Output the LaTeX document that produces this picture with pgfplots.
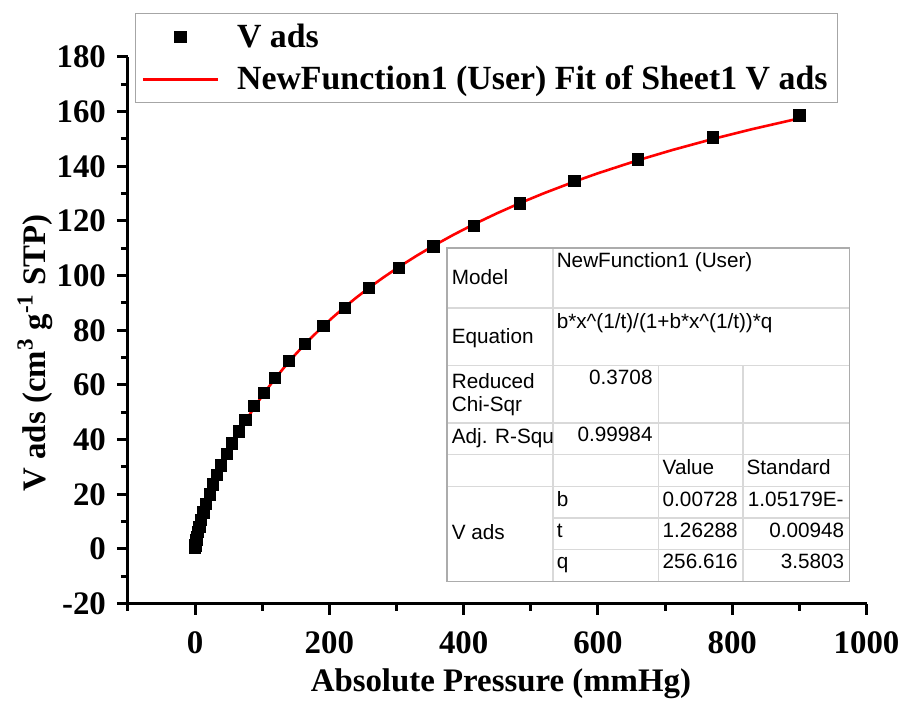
\documentclass[border=0pt]{standalone}
\usepackage{pgfplots}
\pgfplotsset{compat=1.18}
\usepackage{fontspec}
\setmainfont{Liberation Serif}
\newfontfamily\tabfont{Liberation Sans}
\newcommand\bigbold{\fontsize{16.5}{20}\selectfont\bfseries}
\newcommand\legbold{\fontsize{17}{20}\selectfont\bfseries}
\newcommand\tabtext{\fontsize{10.4}{12}\selectfont\tabfont}

\pgfplotsset{
  markleg/.style={legend image code/.code={%
    \draw[##1] plot coordinates {(18.75bp,0bp)};
    \path (0bp,0bp) (44.5bp,0bp);}},
  lineleg/.style={legend image code/.code={%
    \draw[##1] (0bp,0bp) -- (37.5bp,0bp);
    \path (44.5bp,0bp);}},
}

\begin{document}
\begin{tikzpicture}
\begin{axis}[
  at={(0,0)}, anchor=south west,
  scale only axis,
  width=369.5bp, height=273.5bp,
  xmin=-100, xmax=1000,
  ymin=-20, ymax=180,
  axis lines*=left,
  axis line style={line width=1.5bp, black},
  xtick={0,200,...,1000},
  ytick={-20,0,...,180},
  minor xtick={-100,100,...,900},
  minor ytick={-10,10,...,170},
  tick align=outside,
  major tick length=5.5bp,
  minor tick length=3.5bp,
  major tick style={line width=1.5bp, black},
  minor tick style={line width=1.5bp, black},
  /pgf/number format/assume math mode=true,
  /pgf/number format/set thousands separator={},
  ticklabel style={font=\bigbold},
  xticklabel style={yshift=-5bp},
  yticklabel style={xshift=-2bp},
  xlabel={Absolute Pressure (mmHg)},
  ylabel={V ads (cm\textsuperscript{3} g\textsuperscript{-1} STP)},
  label style={font=\bigbold},
  xlabel style={at={(axis description cs:0.505,-0.161)}, anchor=base},
  ylabel style={at={(axis description cs:-0.126,0.459)}, anchor=center},
  legend style={
    at={(axis description cs:0.0095,1.0804)}, anchor=north west,
    draw=gray!70, line width=0.6bp,
    font=\legbold,
    inner xsep=3bp, inner ysep=3bp,
    row sep=4bp,
    legend cell align=left,
  },
]
% measured isotherm
\addplot[only marks, mark=square*, mark size=2.8bp, black, markleg]
  coordinates {
  (0.1,0.4) (0.3,0.8) (0.6,1.3) (1.2,2.2) (2,3.3) (3,4.5) (4.5,6.2)
  (6.5,8.2) (9,10.5) (12.5,13.4) (16.5,16.5) (21.5,20.0) (27,23.6)
  (33,27.2) (39,30.6) (47,34.7) (55,38.6) (65,43.0) (75,47.2) (88,52.2)
  (102,57.1) (119,62.6) (140,68.9) (163,75.0) (191,81.6) (223,88.3)
  (259,95.5) (303,102.7) (355,110.7) (415,118.3) (484,126.4)
  (565,134.6) (660,142.5) (771,150.6) (900,158.6)
  };
\addlegendentry{V ads}
% fitted curve b*x^(1/t)/(1+b*x^(1/t))*q, tabulated
\addplot[red, line width=1.3bp, no marks, lineleg]
  coordinates {
  (0.1,0.301) (0.2,0.521) (0.3,0.718) (0.45,0.989) (0.6,1.241) (0.9,1.707)
  (1.2,2.140) (1.6,2.682) (2,3.194) (2.5,3.802) (3,4.383) (3.7,5.158)
  (4.5,6.003) (5.5,7.009) (6.5,7.969) (7.5,8.892) (9,10.22) (10.5,11.49)
  (12.5,13.10) (14.5,14.64) (16.5,16.12) (19,17.89) (21.5,19.59)
  (24,21.22) (27,23.11) (30,24.93) (33,26.68) (36,28.37) (39,30.01)
  (43,32.12) (47,34.15) (51,36.11) (55,38.01) (60,40.29) (65,42.49)
  (70,44.62) (75,46.67) (81,49.04) (88,51.70) (95,54.24) (102,56.69)
  (110,59.37) (119,62.26) (130,65.62) (140,68.53) (150,71.31)
  (163,74.75) (175,77.76) (191,81.57) (205,84.71) (223,88.54)
  (240,91.94) (259,95.53) (280,99.26) (303,103.09) (330,107.28)
  (355,110.91) (385,114.97) (415,118.76) (450,122.85) (484,126.55)
  (520,130.19) (565,134.41) (600,137.45) (660,142.25) (710,145.90)
  (771,149.99) (830,153.61) (900,157.54)
  };
\addlegendentry{NewFunction1 (User) Fit of Sheet1 V ads}
\end{axis}

% fit report table
\begin{scope}[font=\tabtext]
  \fill[white] (159.5bp,11.15bp) rectangle (361bp,177.85bp);
  \begin{scope}[draw=gray!30, line width=0.7bp]
    \foreach \yy in {147.85,119,90.35,74.5,58.65}
      \draw (159.5bp,\yy bp) -- (361bp,\yy bp);
    \foreach \yy in {42.85,27}
      \draw (212.65bp,\yy bp) -- (361bp,\yy bp);
    \draw (212.65bp,11.15bp) -- (212.65bp,177.85bp);
    \draw (265.5bp,11.15bp) -- (265.5bp,119bp);
    \draw (307.65bp,11.15bp) -- (307.65bp,119bp);
  \end{scope}
  \draw[gray!65, line width=0.8bp] (159.5bp,11.15bp) rectangle (361bp,177.85bp);
  \path[every node/.style={inner sep=0pt}]
    (161.85bp,159.5bp) node[anchor=base west] {Model}
    (214.35bp,168bp) node[anchor=base west] {NewFunction1 (User)}
    (161.85bp,130.35bp) node[anchor=base west] {Equation}
    (214.35bp,137.85bp) node[anchor=base west] {b*x\^{}(1/t)/(1+b*x\^{}(1/t))*q}
    (161.85bp,107.85bp) node[anchor=base west] {Reduced}
    (161.85bp,96.15bp) node[anchor=base west] {Chi-Sqr}
    (262.65bp,109.5bp) node[anchor=base east] {0.3708}
    (161.85bp,80.35bp) node[anchor=base west] {Adj. R-Squ}
    (262.65bp,81bp) node[anchor=base east] {0.99984}
    (267.35bp,64.5bp) node[anchor=base west] {Value}
    (309.35bp,64.5bp) node[anchor=base west] {Standard}
    (161.85bp,32bp) node[anchor=base west] {V ads}
    (214.35bp,48.65bp) node[anchor=base west] {b}
    (267.35bp,48.65bp) node[anchor=base west] {0.00728}
    (310bp,48.65bp) node[anchor=base west] {1.05179E-}
    (214.35bp,33.15bp) node[anchor=base west] {t}
    (267.35bp,33.15bp) node[anchor=base west] {1.26288}
    (358.5bp,33.15bp) node[anchor=base east] {0.00948}
    (214.35bp,17.5bp) node[anchor=base west] {q}
    (267.35bp,17.5bp) node[anchor=base west] {256.616}
    (358.5bp,17.5bp) node[anchor=base east] {3.5803};
\end{scope}

% page frame
\path (-64bp,-48bp) rectangle (389bp,302bp);
\end{tikzpicture}
\end{document}
